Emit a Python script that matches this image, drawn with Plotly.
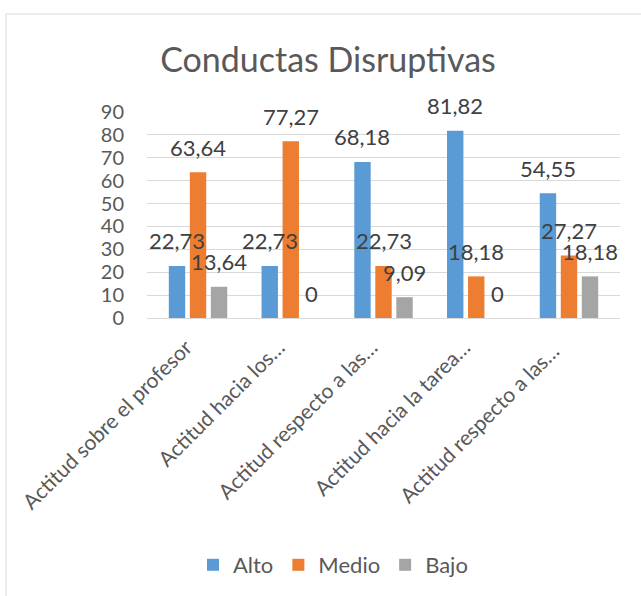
import plotly.graph_objects as go

categories = ["Actitud sobre el profesor", "Actitud hacia los…", "Actitud respecto a las…",
              "Actitud hacia la tarea…", "Actitud respecto a las… "]
series_names = ["Alto", "Medio", "Bajo"]
alto = [22.73, 22.73, 68.18, 81.82, 54.55]
medio = [63.64, 77.27, 22.73, 18.18, 27.27]
bajo = [13.64, 0, 9.09, 0, 18.18]
y_ticks = [0, 10, 20, 30, 40, 50, 60, 70, 80, 90]

colors = ["#5B9BD5", "#ED7D31", "#A5A5A5"]
FONT = "Lato"
BARGAP = 0.32

fig = go.Figure()
all_series = [alto, medio, bajo]
for name, vals, col in zip(series_names, all_series, colors):
    fig.add_trace(go.Bar(name=name, x=categories, y=vals, marker=dict(color=col, line=dict(width=0))))

annotations = []
n = len(all_series)
slot = (1 - BARGAP) / n
for j, vals in enumerate(all_series):
    for i, v in enumerate(vals):
        txt = ("%.2f" % v).replace(".", ",") if v != 0 else "0"
        annotations.append(dict(
            x=i + (j - (n - 1) / 2) * slot, y=v, xref="x", yref="y",
            text=txt, showarrow=False, yanchor="middle", yshift=25,
            font=dict(family=FONT, size=22, color="#404040")))

W, H = 641, 596
L, T = 147, 112
R = W - 620
B = H - 318
pw, ph = W - L - R, H - T - B

def px_to_paper_x(px):
    return (px - L) / pw

def px_to_paper_y(py):
    return (H - B - py) / ph

fig.update_layout(
    width=W, height=H,
    margin=dict(l=L, r=R, t=T, b=B, pad=0, autoexpand=False),
    paper_bgcolor="white", plot_bgcolor="white",
    barmode="group", bargap=BARGAP, bargroupgap=0.22,
    title=dict(text="Conductas Disruptivas", x=328 / W, xref="container", xanchor="center",
               y=1 - 60 / H, yanchor="middle",
               font=dict(family=FONT, size=34, color="#595959")),
    font=dict(family=FONT, color="#595959"),
    xaxis=dict(tickangle=-45, tickfont=dict(family=FONT, size=21, color="#595959"),
               showgrid=False, showline=True, linecolor="#D9D9D9", linewidth=1,
               ticks="", ticklabelshift=-12, ticklabelstandoff=8, automargin=False),
    yaxis=dict(range=[0, 90], tickvals=y_ticks, showgrid=True, gridcolor="#D9D9D9",
               gridwidth=1, zeroline=False, showline=False, ticks="",
               tickfont=dict(family=FONT, size=20, color="#595959"),
               ticklabelstandoff=22, automargin=False),
    showlegend=True,
    legend=dict(orientation="h", x=193 / W, xref="container", xanchor="left",
                y=px_to_paper_y(565), yanchor="middle",
                font=dict(family=FONT, size=22, color="#595959"),
                itemwidth=30, traceorder="normal"),
    annotations=annotations,
    shapes=[dict(type="rect", xref="paper", yref="paper",
                 x0=px_to_paper_x(6), x1=px_to_paper_x(660),
                 y0=px_to_paper_y(620), y1=px_to_paper_y(14),
                 line=dict(color="#D9D9D9", width=1), fillcolor="rgba(0,0,0,0)", layer="below")],
)

fig.write_html("out.html", config={"displayModeBar": False},
               post_script="document.body.style.margin='0px';")
